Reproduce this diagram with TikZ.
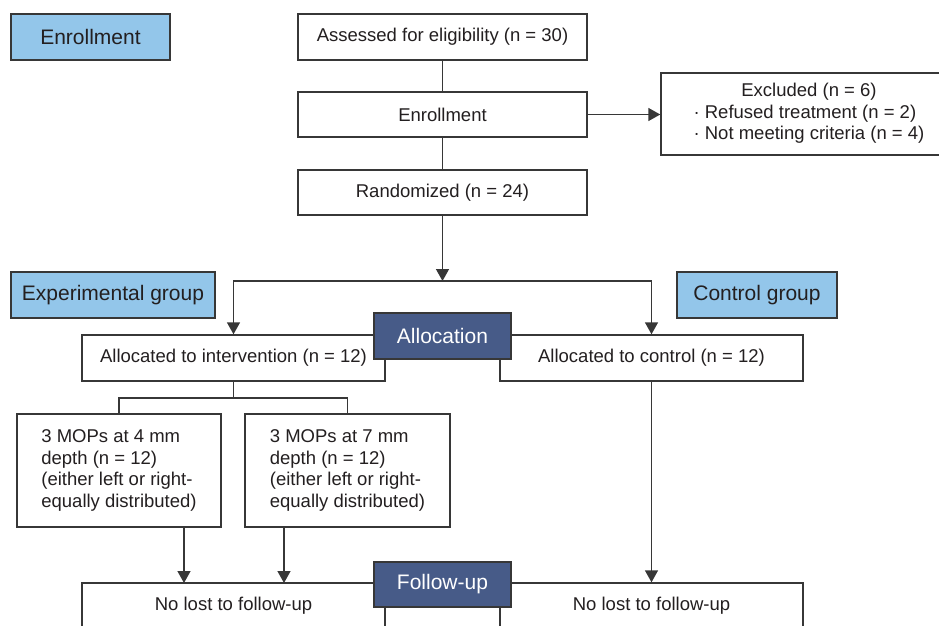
\documentclass[tikz,border=0pt]{standalone}
\usepackage{fontspec}
\setmainfont{Liberation Sans}
\usepackage{xcolor}
\usepackage{tikz}
\usetikzlibrary{positioning}
\usetikzlibrary{arrows.meta}

\definecolor{labelblue}{RGB}{147,198,234}
\definecolor{stageblue}{RGB}{71,91,136}
\definecolor{linegray}{RGB}{55,55,55}
\definecolor{inkgray}{RGB}{35,31,32}

\tikzset{
  box/.style={draw=linegray, fill=white, text=inkgray, inner sep=0pt,
    font=\fontsize{18.5}{21.5}\selectfont},
  groupbox/.style={draw=linegray, fill=labelblue, text=inkgray, inner sep=0pt,
    minimum height=46pt, font=\fontsize{21}{25}\selectfont},
  stagebox/.style={draw=linegray, fill=stageblue, text=white, inner sep=0pt,
    minimum width=137pt, font=\fontsize{21}{25}\selectfont},
  armbox/.style={box, minimum height=113pt, align=left}
}

\begin{document}
\begin{tikzpicture}[x=1pt,y=-1pt,line width=1.4pt,color=linegray,
  >={Triangle[length=12pt,width=13pt]}]

\useasboundingbox (0,0) rectangle (939,626);

% Draw group labels
\node[groupbox, minimum width=159pt] (enrlabel) at (90.5,37) {Enrollment};
\node[groupbox, minimum width=204pt] (explabel) at (113,295) {Experimental group};
\node[groupbox, minimum width=160pt] (ctrllabel) at (757,295) {Control group};

% Draw enrollment boxes
\node[box, minimum width=289pt, minimum height=46pt] (assess) at (442.5,37) {Assessed for eligibility (n = 30)};
\node[box, minimum width=289pt, minimum height=45pt] (enroll) at (442.5,114.5) {Enrollment};
\node[box, minimum width=289pt, minimum height=45pt] (rand) at (442.5,192.5) {Randomized (n = 24)};
\node[box, minimum width=284pt, minimum height=82pt] (excl) at (803,114)
  {\hspace*{12pt}\begin{tabular}{@{}l@{}}\multicolumn{1}{@{}c@{}}{Excluded (n = 6)}\\
   · Refused treatment (n = 2)\\
   · Not meeting criteria (n = 4)\end{tabular}};

% Draw allocation boxes
\node[box, minimum width=303pt, minimum height=46pt] (intv) at (233.5,358) {Allocated to intervention (n = 12)};
\node[box, minimum width=303pt, minimum height=46pt] (ctrl) at (651.5,358) {Allocated to control (n = 12)};
\node[stagebox, minimum height=46pt] (alloc) at (442.5,336) {Allocation};

% Draw arm boxes
\node[armbox, minimum width=204pt] (mop4) at (119,470.5)
  {3 MOPs at 4 mm\\depth (n = 12)\\(either left or right-\\equally distributed)};
\node[armbox, minimum width=205pt] (mop7) at (347.5,470.5)
  {3 MOPs at 7 mm\\depth (n = 12)\\(either left or right-\\equally distributed)};

% Draw follow-up boxes
\node[box, minimum width=303pt, minimum height=46pt] (lostL) at (233.5,606) {No lost to follow-up};
\node[box, minimum width=303pt, minimum height=46pt] (lostR) at (651.5,606) {No lost to follow-up};
\node[stagebox, minimum height=45pt] (follow) at (442.5,584.5) {Follow-up};

% Draw connectors
\coordinate (split) at (442.5,281);
\coordinate (fork) at (233.5,398);
\coordinate (tipL) at (184,583);
\coordinate (tipR) at (284,583);

\draw (assess) -- (enroll);
\draw (enroll) -- (rand);
\draw[->] (enroll.east) -- (enroll.east -| excl.west);
\draw[->] (rand) -- (split);
\draw[->] (split) -| (intv.north);
\draw[->] (split) -| (ctrl.north);
\draw (intv) -- (fork);
\draw (fork) -| (mop4.north);
\draw (fork) -| (mop7.north);
\draw[->] (mop4.south -| tipL) -- (tipL);
\draw[->] (mop7.south -| tipR) -- (tipR);
\draw[->] (ctrl) -- (lostR);

\end{tikzpicture}
\end{document}
